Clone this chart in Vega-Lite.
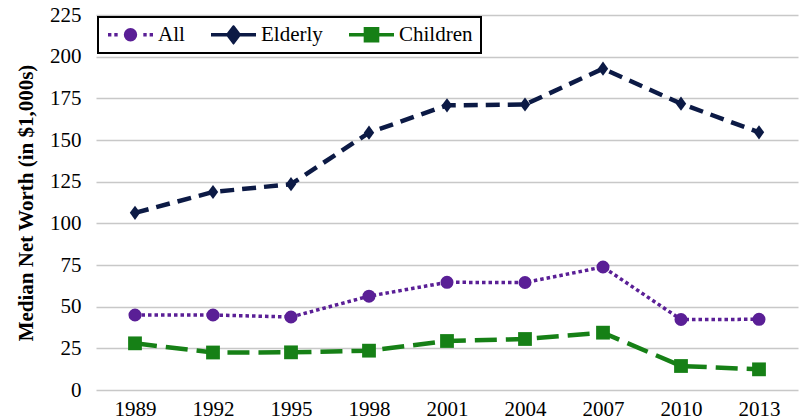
{
  "$schema": "https://vega.github.io/schema/vega-lite/v6.json",
  "width": 702,
  "height": 375,
  "autosize": "none",
  "padding": {"left": 96, "top": 15, "right": 2, "bottom": 30},
  "background": "white",
  "config": {
    "view": {"stroke": null},
    "font": "Liberation Serif"
  },
  "data": {
    "values": [
      {"year": "1989", "series": "All", "value": 45},
      {"year": "1992", "series": "All", "value": 45},
      {"year": "1995", "series": "All", "value": 43.8},
      {"year": "1998", "series": "All", "value": 56.3},
      {"year": "2001", "series": "All", "value": 64.6},
      {"year": "2004", "series": "All", "value": 64.5},
      {"year": "2007", "series": "All", "value": 73.8},
      {"year": "2010", "series": "All", "value": 42.3},
      {"year": "2013", "series": "All", "value": 42.4},
      {"year": "1989", "series": "Elderly", "value": 106.3},
      {"year": "1992", "series": "Elderly", "value": 118.8},
      {"year": "1995", "series": "Elderly", "value": 123.5},
      {"year": "1998", "series": "Elderly", "value": 154.4},
      {"year": "2001", "series": "Elderly", "value": 170.8},
      {"year": "2004", "series": "Elderly", "value": 171.3},
      {"year": "2007", "series": "Elderly", "value": 192.8},
      {"year": "2010", "series": "Elderly", "value": 171.8},
      {"year": "2013", "series": "Elderly", "value": 154.6},
      {"year": "1989", "series": "Children", "value": 28},
      {"year": "1992", "series": "Children", "value": 22.5},
      {"year": "1995", "series": "Children", "value": 22.6},
      {"year": "1998", "series": "Children", "value": 23.6},
      {"year": "2001", "series": "Children", "value": 29.4},
      {"year": "2004", "series": "Children", "value": 30.6},
      {"year": "2007", "series": "Children", "value": 34.4},
      {"year": "2010", "series": "Children", "value": 14.4},
      {"year": "2013", "series": "Children", "value": 12.4}
    ]
  },
  "encoding": {
    "x": {
      "field": "year",
      "type": "ordinal",
      "sort": null,
      "scale": {"type": "point", "padding": 0.5},
      "axis": {
        "title": null,
        "labelAngle": 0,
        "domain": false,
        "ticks": false,
        "tickSize": 0,
        "labelPadding": 8,
        "labelFont": "Liberation Serif",
        "labelFontSize": 21,
        "labelColor": "black",
        "grid": false
      }
    },
    "y": {
      "field": "value",
      "type": "quantitative",
      "scale": {"domain": [0, 225], "nice": false},
      "axis": {
        "title": "Median Net Worth (in $1,000s)",
        "titleFont": "Liberation Serif",
        "titleFontSize": 21,
        "titleFontWeight": "bold",
        "titleColor": "black",
        "titlePadding": 13,
        "values": [0, 25, 50, 75, 100, 125, 150, 175, 200, 225],
        "domain": false,
        "ticks": false,
        "tickSize": 0,
        "labelPadding": 15,
        "labelFont": "Liberation Serif",
        "labelFontSize": 21,
        "labelColor": "black",
        "grid": true,
        "gridColor": "#c8c8c8",
        "gridWidth": 1.5
      }
    },
    "color": {
      "field": "series",
      "type": "nominal",
      "scale": {
        "domain": ["All", "Elderly", "Children"],
        "range": ["#5a1f96", "#0c1a45", "#168016"]
      },
      "legend": {
        "title": null,
        "orient": "none",
        "legendX": 2,
        "legendY": 2,
        "direction": "horizontal",
        "padding": 8,
        "strokeColor": "black",
        "fillColor": "white",
        "columnPadding": 24,
        "symbolSize": 2025,
        "symbolStrokeWidth": 3.5,
        "labelOffset": 3,
        "labelFont": "Liberation Serif",
        "labelFontSize": 21,
        "labelColor": "black",
        "clipHeight": 19,
        "encode": {
          "legend": {"update": {"strokeWidth": {"value": 2}}},
          "symbols": {
            "update": {
              "shape": {"signal": "datum.value === 'All' ? 'M-1,0h0.15M-0.72,0h0.15M0.57,0h0.15M0.85,0h0.15M-0.22,0A0.22,0.22 0 1,1 0.22,0A0.22,0.22 0 1,1 -0.22,0Z' : datum.value === 'Elderly' ? 'M-1,0L1,0M0,-0.33L0.25,0L0,0.33L-0.25,0Z' : 'M-1,0L1,0M-0.27,-0.27L0.27,-0.27L0.27,0.27L-0.27,0.27Z'"},
              "size": {"value": 2025},
              "strokeWidth": {"value": 3.5},
              "fill": {"scale": "color", "field": "value"},
              "stroke": {"scale": "color", "field": "value"},
              "opacity": {"value": 1},
              "fillOpacity": {"value": 1},
              "strokeOpacity": {"value": 1}
            }
          }
        }
      }
    }
  },
  "layer": [
    {
      "mark": {"type": "line", "strokeCap": "butt"},
      "encoding": {
        "strokeDash": {
          "condition": [
            {"test": "datum.series === 'All'", "value": [3.5, 3]},
            {"test": "datum.series === 'Elderly'", "value": [14, 8]}
          ],
          "value": [22, 9]
        },
        "strokeWidth": {
          "condition": {"test": "datum.series === 'All'", "value": 3.5},
          "value": 4.5
        }
      }
    },
    {
      "mark": {"type": "point", "filled": true, "opacity": 1},
      "encoding": {
        "shape": {
          "condition": [
            {"test": "datum.series === 'All'", "value": "circle"},
            {"test": "datum.series === 'Elderly'", "value": "M0,-1.15L0.85,0L0,1.15L-0.85,0Z"}
          ],
          "value": "square"
        },
        "size": {
          "condition": [
            {"test": "datum.series === 'All'", "value": 170},
            {"test": "datum.series === 'Elderly'", "value": 150}
          ],
          "value": 190
        }
      }
    }
  ]
}
